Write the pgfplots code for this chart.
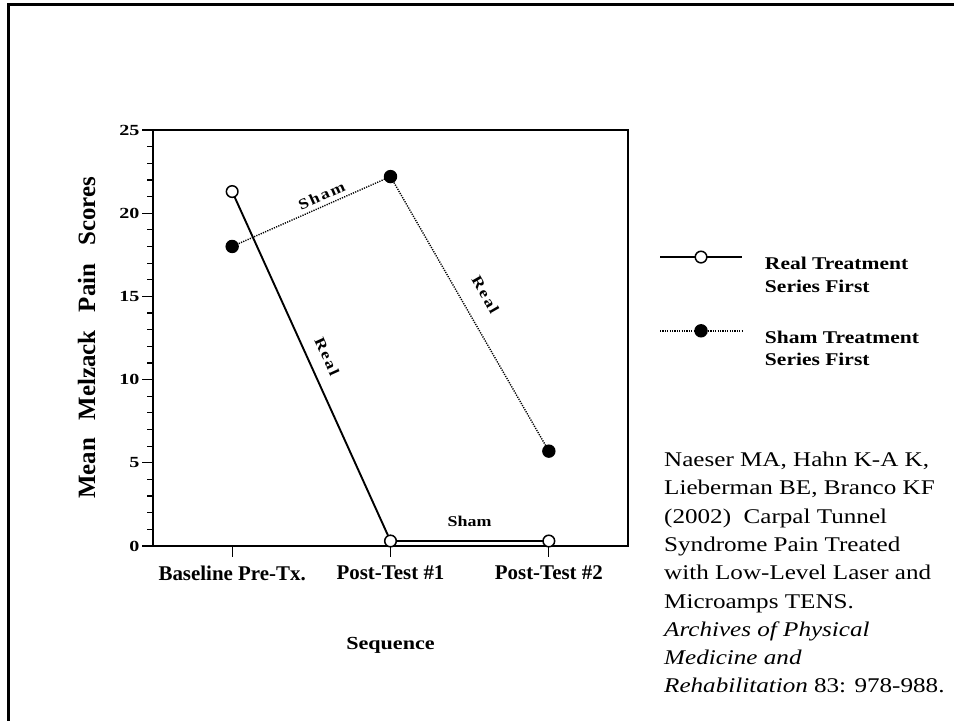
\documentclass[border=0pt]{standalone}
\usepackage{fontspec}
\setmainfont{Liberation Serif}
\newfontfamily\widefont{Liberation Serif}[FakeStretch=1.2]
\newfontfamily\tickfont{Liberation Serif}[FakeStretch=1.3]
\usepackage{pgfplots}
\pgfplotsset{compat=1.18}

% Mean McGill/Melzack pain scores for the two crossover groups
\pgfplotstableread{
x  y
0  21.3
1  0.3
2  0.3
}\realfirst
\pgfplotstableread{
x  y
0  18.0
1  22.2
2  5.7
}\shamfirst

\begin{document}
\begin{tikzpicture}[x=1bp,y=1bp]
\path[use as bounding box] (0,0) rectangle (954,721);
% slide frame
\draw[line width=3bp] (8,0) -- (8,716) -- (954,716);

\begin{axis}[
  at={(153bp,175bp)}, anchor=south west,
  scale only axis, width=475bp, height=416bp,
  xmin=-0.5, xmax=2.5, ymin=0, ymax=25,
  xtick={0,1,2},
  xticklabels={Baseline Pre-Tx., Post-Test \#1, Post-Test \#2},
  ytick={0,5,...,25}, minor y tick num=4,
  tick align=outside, tick pos=left,
  major tick length=11bp, minor tick length=6bp,
  axis line style={line width=1.6bp},
  every tick/.style={black, line width=1.2bp},
  /pgf/number format/assume math mode=true,
  y tick label style={font=\tickfont\bfseries\fontsize{15.5}{17}\selectfont, xshift=1bp},
  x tick label style={font=\bfseries\fontsize{21}{23}\selectfont, yshift=-5bp},
  xlabel={Sequence},
  xlabel style={font=\widefont\bfseries\fontsize{18.5}{20}\selectfont,
    at={(axis description cs:0.5,-0.25)}, anchor=base},
  ylabel={Mean\hspace{18bp}Melzack\hspace{18bp}Pain\hspace{18bp}Scores},
  ylabel style={font=\bfseries\fontsize{25}{28}\selectfont,
    at={(axis description cs:-0.122,0.5)}, anchor=base},
  clip=false,
  legend style={at={(axis description cs:1.065,0.709)}, anchor=north west,
    draw=none, fill=none, inner sep=0pt,
    font=\widefont\bfseries\fontsize{18}{23}\selectfont,
    row sep=52bp, column sep=20bp},
  legend cell align=left,
  legend image code/.code={
    \draw[#1, mark repeat=2, mark phase=2, yshift=5bp]
      plot coordinates {(0bp,0bp) (41bp,0bp) (82bp,0bp)};
  },
]
\addplot[black, line width=1.9bp, mark=*, mark size=5.8bp,
  mark options={fill=white, draw=black, line width=1.5bp}]
  table[x=x, y=y] {\realfirst};
\addlegendentry{\begin{tabular}[t]{@{}l@{}}Real Treatment\\Series First\end{tabular}}
\addplot[black, line width=1.4bp, dash pattern=on 1.2bp off 1.2bp,
  mark=*, mark size=6bp, mark options={solid, fill=black}]
  table[x=x, y=y] {\shamfirst};
\addlegendentry{\begin{tabular}[t]{@{}l@{}}Sham Treatment\\Series First\end{tabular}}

% segment labels
\node[rotate=24, font=\widefont\bfseries\fontsize{15}{17}\selectfont\addfontfeature{LetterSpace=12}]
  at (axis cs:0.565,21.05) {Sham};
\node[rotate=-65.7, font=\widefont\bfseries\fontsize{15}{17}\selectfont\addfontfeature{LetterSpace=12}]
  at (axis cs:0.6,11.4) {Real};
\node[rotate=-60.1, font=\widefont\bfseries\fontsize{15}{17}\selectfont\addfontfeature{LetterSpace=12}]
  at (axis cs:1.6,15.1) {Real};
\node[font=\widefont\bfseries\fontsize{15}{17}\selectfont]
  at (axis cs:1.5,1.45) {Sham};
\end{axis}

% reference (anchored on the baseline of its last line)
\node[anchor=base west, align=left, inner sep=0pt,
  font=\widefont\fontsize{21}{28.4}\selectfont] at (664,28)
  {Naeser MA, Hahn K-A K,\\
   Lieberman BE, Branco KF\\
   (2002)\ \ Carpal Tunnel\\
   Syndrome Pain Treated\\
   with Low-Level Laser and\\
   Microamps TENS.\\
   \textit{Archives of Physical}\\
   \textit{Medicine and}\\
   \textit{Rehabilitation} 83: 978-988.};
\end{tikzpicture}
\end{document}
